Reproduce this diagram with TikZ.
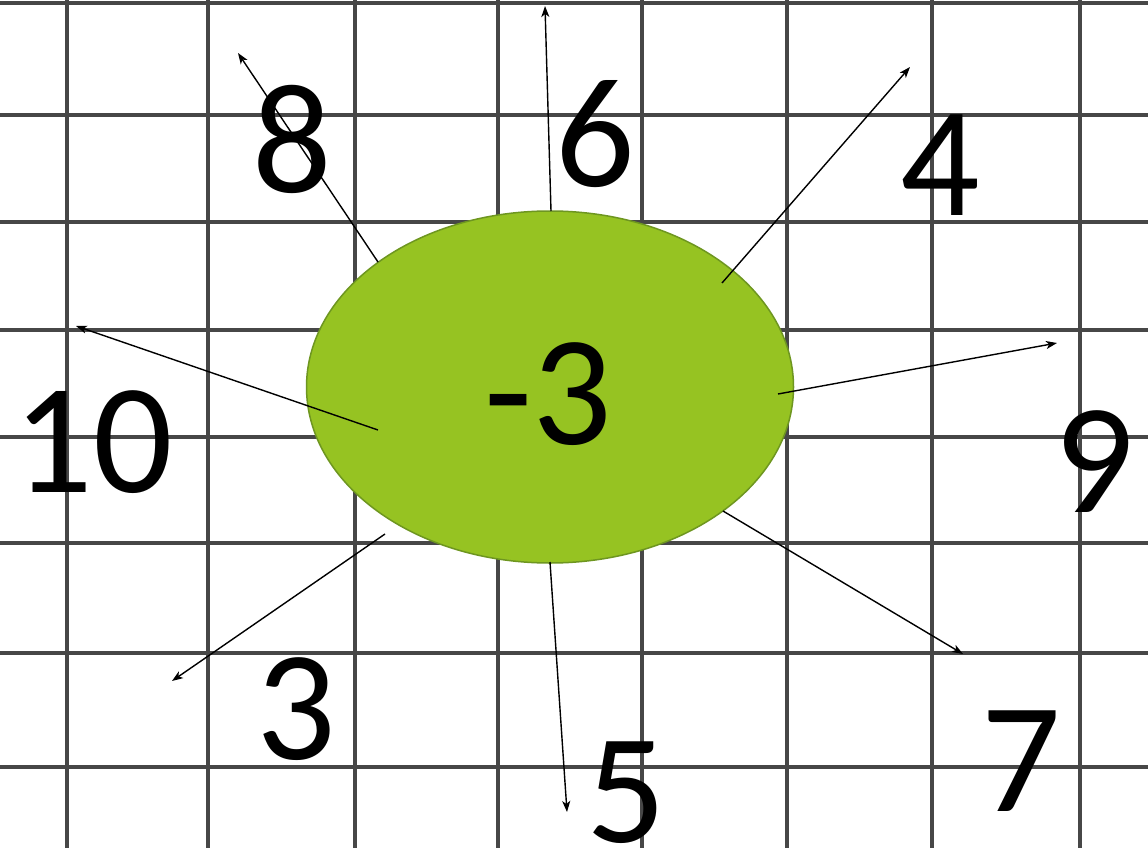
\documentclass[tikz,border=0pt]{standalone}
\usepackage{fontspec}
\setmainfont{Carlito}
\usetikzlibrary{arrows.meta,shapes.geometric}
\definecolor{blobfill}{HTML}{96C322}
\definecolor{blobedge}{HTML}{6E9620}
\tikzset{
  gridline/.style={line width=3.5pt, black!72},
  numlabel/.style={font=\fontsize{157}{160}\selectfont, inner sep=0pt, text=black},
  blob/.style={ellipse, draw=blobedge, line width=1.5pt, fill=blobfill, minimum width=487pt, minimum height=352pt, inner sep=0pt},
  arr/.style={line width=1.4pt, -{Stealth[length=11pt,width=8pt,inset=3pt]}}
}
\begin{document}
\begin{tikzpicture}[x=1pt,y=-1pt]
\useasboundingbox (0,0) rectangle (1148,848);
\fill[white] (0,0) rectangle (1148,848);
% grid
\foreach \gx in {67,208,355,498,642,787,932,1080}{
  \draw[gridline] (\gx,0) -- (\gx,848);
}
\foreach \gy in {3,115,222,330,437,543,653,767}{
  \draw[gridline] (0,\gy) -- (1148,\gy);
}
% central ellipse
\node[blob] (c) at (550,387) {};
\node[numlabel] (cm3) at (548,394) {-3};
% labels
\node[numlabel] (n8) at (292,139) {8};
\node[numlabel] (n6) at (595,134) {6};
\node[numlabel] (n4) at (940,165) {4};
\node[numlabel] (n10) at (93,442) {10};
\node[numlabel] (n9) at (1094,462) {9};
\node[numlabel] (n3) at (296,709) {3};
\node[numlabel] (n5) at (626,793) {5};
\node[numlabel] (n7) at (1021,761) {7};
% arrow endpoints
\coordinate (s8) at (378,262);  \coordinate (t8) at (238,53);
\coordinate (s6) at (551,211);  \coordinate (t6) at (545,6);
\coordinate (s4) at (722,283);  \coordinate (t4) at (910,67);
\coordinate (s10) at (378,430); \coordinate (t10) at (76,326);
\coordinate (s9) at (778,394);  \coordinate (t9) at (1057,343);
\coordinate (s3) at (385,534);  \coordinate (t3) at (172,681);
\coordinate (s5) at (550,562);  \coordinate (t5) at (567,812);
\coordinate (s7) at (723,511);  \coordinate (t7) at (963,654);
\foreach \k in {8,6,4,10,9,3,5,7}{
  \draw[arr] (s\k) -- (t\k);
}
\end{tikzpicture}
\end{document}
